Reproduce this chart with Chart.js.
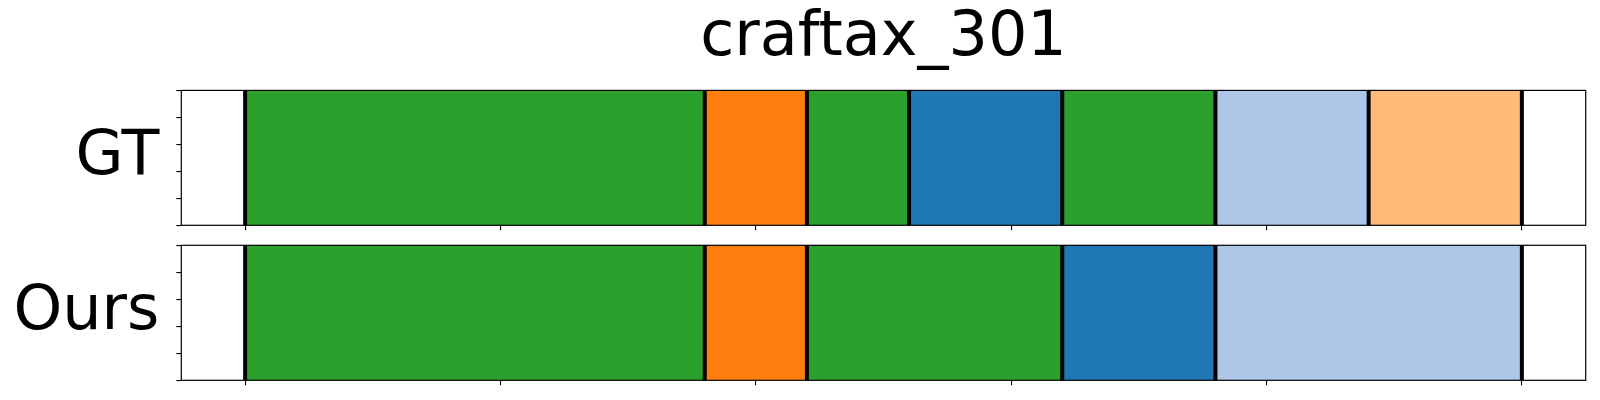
<!DOCTYPE html>
<html>
<head>
<meta charset="utf-8">
<script src="https://cdn.jsdelivr.net/npm/chart.js@4.4.1/dist/chart.umd.min.js"></script>
<style>
    html, body { margin: 0; padding: 0; background: #fff; }
    body { width: 1600px; height: 400px; position: relative; overflow: hidden; }
    .panel { position: absolute; left: 0; width: 1600px; }
    #top-panel { top: 0; height: 236px; }
    #bottom-panel { top: 236px; height: 164px; }
</style>
</head>
<body>
<div class="panel" id="top-panel"><canvas id="gt-chart"></canvas></div>
<div class="panel" id="bottom-panel"><canvas id="ours-chart"></canvas></div>
<script>
// Data
const chartTitle = 'craftax_301';
const rowLabels = ['GT', 'Ours'];
const gtBounds = [0, 90, 110, 130, 160, 190, 220, 250];
const gtClasses = [4, 2, 4, 0, 4, 1, 3];
const oursBounds = [0, 90, 110, 160, 190, 250];
const oursClasses = [4, 2, 4, 0, 1];
const xTicks = [0, 50, 100, 150, 200, 250];
const yTicks = [0, 0.25, 0.5, 0.75, 1];
const tab20 = ['#1f77b4', '#aec7e8', '#ff7f0e', '#ffbb78', '#2ca02c'];

const FONT = "'DejaVu Sans', sans-serif";

// Black boundary lines + axes frame
const segmentLines = {
    id: 'segmentLines',
    afterDatasetsDraw(chart, args, opts) {
        const { ctx, chartArea, scales } = chart;
        ctx.save();
        ctx.strokeStyle = '#000';
        ctx.lineWidth = 4;
        opts.bounds.forEach(v => {
            const x = scales.x.getPixelForValue(v);
            ctx.beginPath();
            ctx.moveTo(x, chartArea.top);
            ctx.lineTo(x, chartArea.bottom);
            ctx.stroke();
        });
        ctx.lineWidth = 1.2;
        ctx.strokeRect(chartArea.left, chartArea.top,
            chartArea.right - chartArea.left, chartArea.bottom - chartArea.top);
        ctx.restore();
    }
};

// keep the big row label from pushing the plot area around
function fixVertical(width) {
    return s => {
        s.width = width;
        s.paddingTop = 0;
        s.paddingBottom = 0;
    };
}

function makeTimeline(id, label, bounds, classes, showTitle, padTop, xAxisHeight) {
    const datasets = bounds.slice(0, -1).map((b, i) => ({
        label: label + ' ' + i,
        data: [[b, bounds[i + 1]]],
        backgroundColor: tab20[classes[i]],
        borderWidth: 0
    }));

    return new Chart(document.getElementById(id), {
        type: 'bar',
        data: { labels: [label], datasets },
        plugins: [segmentLines],
        options: {
            indexAxis: 'y',
            responsive: true,
            maintainAspectRatio: false,
            animation: false,
            layout: { padding: { top: padTop, right: 14.3, left: 0, bottom: 0 } },
            datasets: {
                bar: { grouped: false, barPercentage: 1, categoryPercentage: 1 }
            },
            plugins: {
                legend: { display: false },
                tooltip: { enabled: false },
                title: {
                    display: showTitle,
                    text: chartTitle,
                    fullSize: false,
                    color: '#000',
                    font: { family: FONT, size: 62, weight: 'normal' },
                    padding: { top: 2, bottom: 14 }
                },
                segmentLines: { bounds }
            },
            scales: {
                x: {
                    type: 'linear',
                    min: -12.5,
                    max: 262.5,
                    afterBuildTicks: s => { s.ticks = xTicks.map(v => ({ value: v })); },
                    ticks: { display: false },
                    grid: { drawOnChartArea: false, tickLength: 5, color: '#000', lineWidth: 1.1 },
                    border: { display: false },
                    afterFit: s => {
                        s.height = xAxisHeight;
                        s.paddingLeft = 0;
                        s.paddingRight = 0;
                    }
                },
                y: {
                    type: 'category',
                    position: 'left',
                    weight: 1,
                    grid: { display: false, drawTicks: false },
                    border: { display: false },
                    ticks: { color: '#000', font: { family: FONT, size: 62 }, padding: 14 },
                    afterFit: fixVertical(173.3)
                },
                yt: {
                    type: 'linear',
                    position: 'left',
                    weight: 0,
                    min: yTicks[0],
                    max: yTicks[yTicks.length - 1],
                    ticks: { display: false, stepSize: yTicks[1] - yTicks[0] },
                    grid: { drawOnChartArea: false, tickLength: 5, color: '#000', lineWidth: 1.1 },
                    border: { display: false },
                    afterFit: fixVertical(8)
                }
            }
        }
    });
}

document.addEventListener('DOMContentLoaded', () => {
    makeTimeline('gt-chart', rowLabels[0], gtBounds, gtClasses, true, 0, 10.7);
    makeTimeline('ours-chart', rowLabels[1], oursBounds, oursClasses, false, 9.3, 19.7);
});
</script>
</body>
</html>
